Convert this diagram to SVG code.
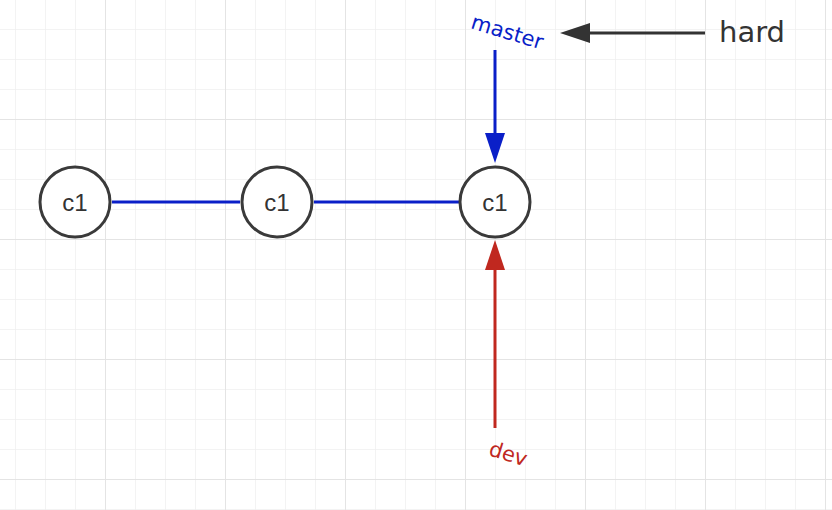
<svg xmlns="http://www.w3.org/2000/svg" width="832" height="510" viewBox="0 0 832 510">
<defs>
<pattern id="grid" x="15" y="29" width="30" height="30" patternUnits="userSpaceOnUse">
<path d="M0 0H30M0 0V30" fill="none" stroke="#efefef" stroke-width="1.5"/>
</pattern>
<pattern id="grid2" x="105" y="119" width="120" height="120" patternUnits="userSpaceOnUse">
<path d="M0 0H120M0 0V120" fill="none" stroke="#e4e4e4" stroke-width="2"/>
</pattern>
</defs>
<style>
.node circle{fill:#fff;stroke:#3a3a3a;stroke-width:3}
.node text{font-family:"Liberation Sans",Arial,sans-serif;font-size:24px;fill:#333;text-anchor:middle}
.lbl{font-family:"DejaVu Sans",sans-serif}
</style>
<rect width="832" height="510" fill="#fff"/>
<rect width="832" height="510" fill="url(#grid)"/>
<rect width="832" height="510" fill="url(#grid2)"/>
<g id="connectors">
<line x1="112" y1="202" x2="240" y2="202" stroke="#0a1fc8" stroke-width="3"/>
<line x1="314" y1="202" x2="459" y2="202" stroke="#0a1fc8" stroke-width="3"/>
<line x1="495" y1="50" x2="495" y2="135" stroke="#0a1fc8" stroke-width="3"/>
<polygon points="485,133 505,133 495,163" fill="#0a1fc8"/>
<line x1="495" y1="428" x2="495" y2="268" stroke="#c0281f" stroke-width="3"/>
<polygon points="485,270 505,270 495,240" fill="#c0281f"/>
<line x1="705" y1="33" x2="585" y2="33" stroke="#333" stroke-width="3"/>
<polygon points="590,23 590,43 560,33" fill="#333"/>
</g>
<g id="n1" class="node"><circle cx="75" cy="202" r="35"/><text x="75" y="211">c1</text></g>
<g id="n2" class="node"><circle cx="277" cy="202" r="35"/><text x="277" y="211">c1</text></g>
<g id="n3" class="node"><circle cx="495" cy="202" r="35"/><text x="495" y="211">c1</text></g>
<g id="master"><text class="lbl" x="507" y="39" font-size="21" fill="#0a1fc8" text-anchor="middle" transform="rotate(17 507 33)">master</text></g>
<g id="dev"><text class="lbl" x="508" y="461" font-size="21" fill="#c0281f" text-anchor="middle" transform="rotate(17 508 455)">dev</text></g>
<g id="hard"><text x="719" y="42" font-family="DejaVu Sans,sans-serif" font-size="29" fill="#333">hard</text></g>
</svg>
